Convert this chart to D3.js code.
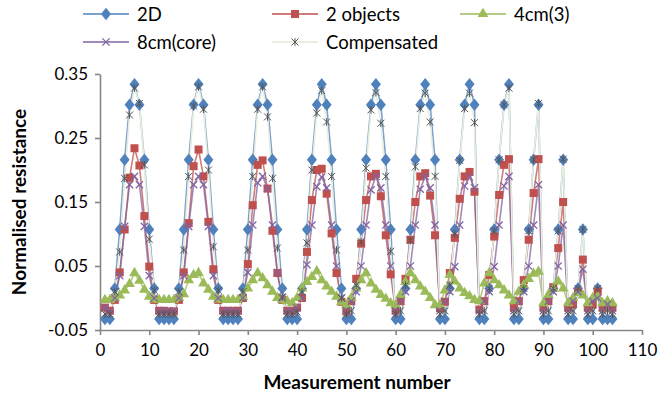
<!DOCTYPE html>
<html>
<head>
<meta charset="utf-8">
<script src="https://cdn.jsdelivr.net/npm/d3@7/dist/d3.min.js"></script>
<style>
  html, body { margin: 0; padding: 0; background: #fff; }
  svg { display: block; font-family: Lato, "Open Sans", sans-serif; }
</style>
</head>
<body>
<svg id="chart" width="659" height="399"></svg>
<script>
// Measurement numbers 1..104 (adjacent-drive protocol, 16 electrodes)
const measurements = d3.range(1, 105);

const series2D = [
  -0.033,-0.033,0.015,0.107,0.216,0.302,0.334,0.302,0.216,0.107,0.015,-0.033,-0.033,
  -0.033,-0.033,0.015,0.107,0.216,0.302,0.334,0.302,0.216,0.107,0.015,-0.033,-0.033,
  -0.033,-0.033,0.015,0.107,0.216,0.302,0.334,0.302,0.216,0.107,0.015,-0.033,
  -0.033,-0.033,0.015,0.107,0.216,0.302,0.334,0.302,0.216,0.107,0.015,
  -0.033,-0.033,0.015,0.107,0.216,0.302,0.334,0.302,0.216,0.107,
  -0.033,-0.033,0.015,0.107,0.216,0.302,0.334,0.302,0.216,
  -0.033,-0.033,0.015,0.107,0.216,0.302,0.334,0.302,
  -0.033,-0.033,0.015,0.107,0.216,0.302,0.334,
  -0.033,-0.033,0.015,0.107,0.216,0.302,
  -0.033,-0.033,0.015,0.107,0.216,
  -0.033,-0.033,0.015,0.107,
  -0.033,-0.033,0.015,
  -0.033,-0.033,
  -0.033
];

const seriesTwoObjects = [
  -0.015,-0.020,-0.003,0.040,0.107,0.188,0.234,0.207,0.128,0.049,-0.003,-0.020,-0.020,
  -0.021,-0.021,-0.003,0.040,0.117,0.206,0.232,0.190,0.119,0.045,-0.003,-0.020,-0.020,
  -0.020,-0.020,0.000,0.053,0.145,0.208,0.215,0.171,0.105,0.039,-0.003,-0.020,
  -0.020,-0.015,0.000,0.072,0.153,0.200,0.202,0.163,0.101,0.039,-0.006,
  -0.021,-0.005,0.030,0.085,0.153,0.190,0.194,0.159,0.098,0.037,
  -0.020,-0.005,0.030,0.091,0.150,0.190,0.195,0.160,0.098,
  -0.016,-0.006,0.039,0.094,0.155,0.190,0.197,0.166,
  -0.018,-0.005,0.036,0.096,0.161,0.208,0.217,
  -0.015,-0.005,0.028,0.091,0.164,0.217,
  -0.015,-0.005,0.017,0.078,0.150,
  -0.015,-0.010,0.010,0.060,
  -0.015,-0.010,0.010,
  -0.015,-0.010,
  -0.015
];

const series4cm = [
  -0.003,-0.003,0.000,0.004,0.012,0.022,0.039,0.027,0.013,0.002,-0.002,-0.003,-0.003,
  -0.003,-0.003,0.000,0.006,0.028,0.036,0.039,0.023,0.013,0.002,-0.002,-0.003,-0.003,
  -0.003,-0.003,0.002,0.015,0.028,0.039,0.031,0.020,0.010,0.000,-0.003,-0.005,
  -0.008,0.000,0.015,0.025,0.033,0.042,0.028,0.018,0.010,0.002,-0.006,
  -0.011,0.000,0.015,0.028,0.039,0.023,0.013,0.005,-0.001,-0.008,
  -0.011,0.005,0.025,0.039,0.028,0.018,0.010,0.000,-0.011,
  -0.011,0.012,0.036,0.026,0.015,0.008,0.003,-0.003,
  -0.005,0.023,0.039,0.028,0.020,0.012,0.004,
  -0.005,0.010,0.020,0.030,0.038,0.041,
  -0.008,0.005,0.015,0.026,0.015,
  -0.008,0.000,0.008,0.004,
  -0.008,0.000,0.002,
  -0.008,-0.005,
  -0.008
];

const series8cmCore = [
  -0.015,-0.020,0.000,0.035,0.112,0.177,0.190,0.177,0.112,0.035,0.000,-0.020,-0.020,
  -0.020,-0.020,0.000,0.035,0.112,0.177,0.190,0.177,0.112,0.035,0.000,-0.020,-0.020,
  -0.020,-0.020,0.000,0.040,0.114,0.180,0.190,0.171,0.114,0.040,0.000,-0.020,
  -0.020,-0.015,0.000,0.052,0.114,0.174,0.189,0.172,0.114,0.050,0.000,
  -0.020,-0.005,0.010,0.050,0.114,0.169,0.190,0.172,0.114,0.050,
  -0.020,-0.005,0.010,0.050,0.114,0.170,0.190,0.172,0.114,
  -0.020,-0.005,0.010,0.049,0.114,0.175,0.189,0.172,
  -0.020,-0.005,0.010,0.049,0.114,0.175,0.190,
  -0.020,-0.005,0.010,0.050,0.114,0.177,
  -0.020,-0.005,0.010,0.050,0.114,
  -0.020,-0.005,0.010,0.045,
  -0.020,-0.005,0.000,
  -0.020,-0.010,
  -0.020
];

const seriesCompensated = [
  -0.025,-0.025,0.010,0.072,0.187,0.286,0.328,0.304,0.208,0.092,0.012,-0.025,-0.025,
  -0.025,-0.025,0.010,0.075,0.190,0.300,0.330,0.295,0.200,0.080,0.012,-0.025,-0.025,
  -0.025,-0.025,0.010,0.075,0.190,0.295,0.330,0.283,0.187,0.078,0.002,-0.025,
  -0.025,-0.022,0.010,0.086,0.200,0.289,0.324,0.275,0.190,0.075,0.000,
  -0.025,-0.020,0.020,0.088,0.203,0.294,0.321,0.273,0.190,0.073,
  -0.025,-0.020,0.020,0.090,0.205,0.296,0.320,0.275,0.190,
  -0.025,-0.020,0.020,0.100,0.215,0.296,0.320,0.274,
  -0.025,-0.020,0.015,0.105,0.216,0.302,0.328,
  -0.025,-0.020,0.015,0.105,0.216,0.304,
  -0.025,-0.020,0.015,0.105,0.217,
  -0.025,-0.020,0.015,0.107,
  -0.025,-0.020,0.015,
  -0.025,-0.020,
  -0.025
];

const seriesNames = ["2D", "2 objects", "4cm(3)", "8cm(core)", "Compensated"];
const xTicks = d3.range(0, 111, 10);
const yTicks = [-0.05, 0.05, 0.15, 0.25, 0.35];

// ---- custom marker shapes ----
const symX = {
  draw(ctx, size) {
    const r = Math.sqrt(size) / 2;
    ctx.moveTo(-r, -r); ctx.lineTo(r, r);
    ctx.moveTo(-r, r); ctx.lineTo(r, -r);
  }
};
const symStar = {
  draw(ctx, size) {
    const r = Math.sqrt(size) / 2;
    ctx.moveTo(-r, -r); ctx.lineTo(r, r);
    ctx.moveTo(-r, r); ctx.lineTo(r, -r);
    ctx.moveTo(0, -r * 1.1); ctx.lineTo(0, r * 1.1);
  }
};
const symDiamond = {
  draw(ctx, size) {
    const h = Math.sqrt(size) * 0.62, w = Math.sqrt(size) * 0.5;
    ctx.moveTo(0, -h); ctx.lineTo(w, 0); ctx.lineTo(0, h); ctx.lineTo(-w, 0); ctx.closePath();
  }
};

const styles = [
  { values: series2D,          line: "#4F81BD", lineW: 1.6, lineOp: 0.75, sym: symDiamond,        size: 100, fill: "#4F81BD", stroke: "none",    sw: 0 },
  { values: seriesTwoObjects,  line: "#C0504D", lineW: 1.6, lineOp: 0.75, sym: d3.symbolSquare,   size: 64,  fill: "#C0504D", stroke: "none",    sw: 0 },
  { values: series4cm,         line: "#9BBB59", lineW: 1.6, lineOp: 0.75, sym: d3.symbolTriangle, size: 50,  fill: "#9BBB59", stroke: "none",    sw: 0 },
  { values: series8cmCore,     line: "#8064A2", lineW: 1.6, lineOp: 0.75, sym: symX,              size: 52,  fill: "none",    stroke: "#8064A2", sw: 1.3 },
  { values: seriesCompensated, line: "#E9EEDD", lineW: 1.6, lineOp: 1.0,  sym: symStar,           size: 49,  fill: "none",    stroke: "#555",    sw: 1.0 }
];

const svg = d3.select("#chart");
const margin = { left: 100, right: 17, top: 74, bottom: 69 };
const W = 659, H = 399;

const x = d3.scaleLinear().domain([0, 110]).range([margin.left, W - margin.right]);
const y = d3.scaleLinear().domain([-0.05, 0.35]).range([H - margin.bottom, margin.top]);

const axisColor = "#868686";

// Axes
const xAxis = d3.axisBottom(x).tickValues(xTicks).tickSize(5).tickSizeOuter(0).tickPadding(9);
const yAxis = d3.axisLeft(y).tickValues(yTicks).tickSize(5).tickSizeOuter(0).tickPadding(7)
  .tickFormat(d => d3.format(".2f")(d).replace("−", "-"));

const gx = svg.append("g").attr("transform", `translate(0,${y(-0.05)})`).call(xAxis);
const gy = svg.append("g").attr("transform", `translate(${x(0)},0)`).call(yAxis);
[gx, gy].forEach(g => {
  g.select(".domain").attr("stroke", axisColor).attr("stroke-width", 1.6);
  g.selectAll(".tick line").attr("stroke", axisColor).attr("stroke-width", 1.6);
  g.selectAll(".tick text").attr("fill", "#000").style("font-size", "17px").style("font-family", "Lato, sans-serif");
});

// Series lines and markers
const line = d3.line().x((d, i) => x(measurements[i])).y(d => y(d));

styles.forEach(s => {
  svg.append("path")
    .attr("d", line(s.values))
    .attr("fill", "none")
    .attr("stroke", s.line)
    .attr("stroke-width", s.lineW)
    .attr("stroke-opacity", s.lineOp)
    .attr("stroke-linejoin", "round");
});
styles.forEach(s => {
  const sym = d3.symbol().type(s.sym).size(s.size);
  svg.append("g").selectAll("path")
    .data(s.values)
    .join("path")
    .attr("transform", (d, i) => `translate(${x(measurements[i])},${y(d)})`)
    .attr("d", sym)
    .attr("fill", s.fill)
    .attr("stroke", s.stroke)
    .attr("stroke-width", s.sw);
});

// Axis titles
svg.append("text")
  .attr("x", (x(0) + x(110)) / 2 - 14)
  .attr("y", 389)
  .attr("text-anchor", "middle")
  .style("font-weight", "bold")
  .style("font-size", "19px")
  .text("Measurement number");

svg.append("text")
  .attr("transform", `translate(26,${(y(-0.05) + y(0.35)) / 2}) rotate(-90)`)
  .attr("text-anchor", "middle")
  .style("font-weight", "bold")
  .style("font-size", "19px")
  .text("Normalised resistance");

// Legend
const legendPos = [
  { x: 83, y: 14 }, { x: 272, y: 14 }, { x: 460, y: 14 },
  { x: 83, y: 42 }, { x: 272, y: 42 }
];
styles.forEach((s, i) => {
  const p = legendPos[i];
  const g = svg.append("g").attr("transform", `translate(${p.x},${p.y})`);
  g.append("line").attr("x1", 0).attr("x2", 46).attr("y1", 0).attr("y2", 0)
    .attr("stroke", s.line).attr("stroke-width", 1.8).attr("stroke-opacity", s.lineOp);
  g.append("path").attr("transform", "translate(23,0)")
    .attr("d", d3.symbol().type(s.sym).size(s.size)())
    .attr("fill", s.fill).attr("stroke", s.stroke).attr("stroke-width", s.sw);
  g.append("text").attr("x", 54).attr("y", 0).attr("dy", "0.36em")
    .style("font-size", "18.5px")
    .text(seriesNames[i]);
});
</script>
</body>
</html>
